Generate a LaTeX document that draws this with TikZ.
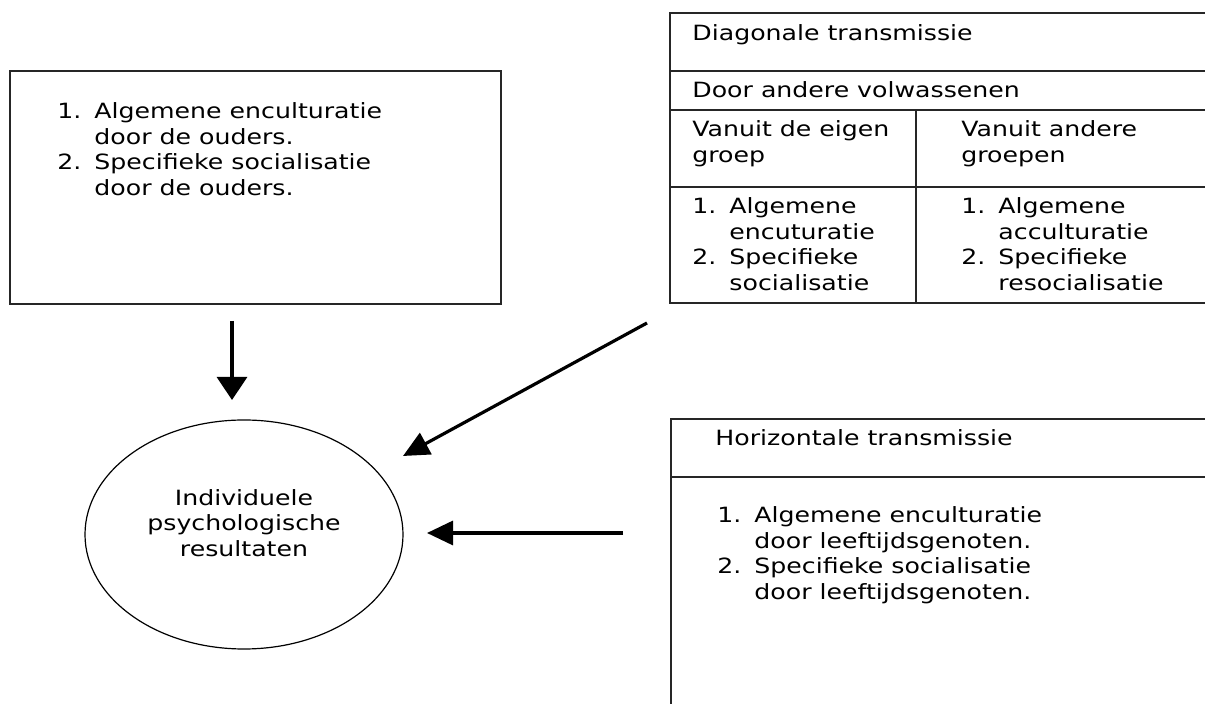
\documentclass[tikz,border=0pt]{standalone}
\usepackage{fontspec}
\setmainfont{DejaVu Sans}[FakeStretch=1.2]
\usetikzlibrary{arrows.meta,shapes.geometric}
\newcommand{\twee}[4]{\begin{tabular}[t]{@{}l@{\hspace{6.5pt}}l@{}}1. & #1\\ & #2\\ 2. & #3\\ & #4\end{tabular}}
\newcommand{\regels}[2]{\begin{tabular}[t]{@{}l@{}}#1\\#2\end{tabular}}

\begin{document}
\begin{tikzpicture}[x=0.5pt, y=-0.5pt,
		lijn/.style={line width=1pt, draw=black!85},
		tekst/.style={anchor=base west, inner sep=0pt, font=\fontsize{10.5}{12.75}\selectfont},
		pijl/.style={line width=1.6pt, -{Triangle[length=13pt,width=12pt]}}]
				\useasboundingbox (0,0) rectangle (1205,704);
				
				% ouders
				\node[lijn, draw, minimum width=245.5pt, minimum height=116.5pt, inner sep=0pt] (ouders) at (255.5,187.5) {};
				\node[tekst] (ouderstekst) at (57,119) {\twee{Algemene enculturatie}{door de ouders.}{Specifieke socialisatie}{door de ouders.}};
				
				% resultaten
				\node[draw, ellipse, line width=0.6pt, minimum width=159pt, minimum height=114.5pt, inner sep=0pt] (res) at (244,534.5) {};
				\node[tekst, anchor=center, align=center] (restekst) at (244,523) {Individuele\\psychologische\\resultaten};
				
				% diagonale transmissie
				\draw[lijn] (1205,13) -- (670,13) -- (670,303) -- (1205,303);
				\draw[lijn] (670,71) -- (1205,71);
				\draw[lijn] (670,110) -- (1205,110);
				\draw[lijn] (670,187) -- (1205,187);
				\draw[lijn] (916,110) -- (916,303);
				\node[tekst] (diag) at (692,41) {Diagonale transmissie};
				\node[tekst] (volw) at (692,98) {Door andere volwassenen};
				\node[tekst] (eigen) at (692,137) {\regels{Vanuit de eigen}{groep}};
				\node[tekst] (andere) at (961,137) {\regels{Vanuit andere}{groepen}};
				\node[tekst] (eigenlijst) at (692,214) {\twee{Algemene}{encuturatie}{Specifieke}{socialisatie}};
				\node[tekst] (anderelijst) at (961,214) {\twee{Algemene}{acculturatie}{Specifieke}{resocialisatie}};
				
				% horizontale transmissie
				\draw[lijn] (1205,419) -- (671,419) -- (671,704);
				\draw[lijn] (671,477) -- (1205,477);
				\node[tekst] (hor) at (715,446) {Horizontale transmissie};
				\node[tekst] (horlijst) at (717,523) {\twee{Algemene enculturatie}{door leeftijdsgenoten.}{Specifieke socialisatie}{door leeftijdsgenoten.}};
				
				% pijlen
				\coordinate (ouderpijl) at (232,321);
				\coordinate (ouderpunt) at (232,400);
				\coordinate (diagpijl) at (647,323);
				\coordinate (diagpunt) at (403,456);
				\coordinate (horpijl) at (623,533);
				\coordinate (horpunt) at (427,533);
				\draw[pijl, -{Triangle[length=11.5pt,width=15pt]}] (ouderpijl) -- (ouderpunt);
				\draw[pijl] (diagpijl) -- (diagpunt);
				\draw[pijl] (horpijl) -- (horpunt);
			\end{tikzpicture}
\end{document}
